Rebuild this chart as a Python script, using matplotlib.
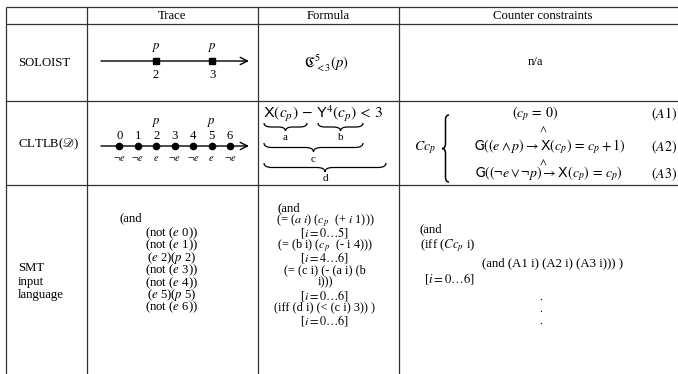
import matplotlib
matplotlib.use("Agg")
import matplotlib.pyplot as plt
from matplotlib.path import Path
from matplotlib.patches import PathPatch

plt.rcParams['font.family'] = ['Liberation Serif', 'DejaVu Serif']
plt.rcParams['mathtext.fontset'] = 'stix'

# ---------------- table content ----------------
headers = ["Trace", "Formula", "Counter constraints"]
row_labels = ["SOLOIST", r"CLTLB($\mathscr{D}$)", "SMT\ninput\nlanguage"]

# SOLOIST trace: positions with p
soloist_times = [2, 3]
soloist_marks = ["p", "p"]
soloist_formula = r"$\mathfrak{C}^{5}_{<3}(p)$"
soloist_constraints = "n/a"

# CLTLB trace
cltlb_times = [0, 1, 2, 3, 4, 5, 6]
cltlb_e = [False, False, True, False, False, True, False]
cltlb_p = [False, False, True, False, False, True, False]

SX = "\U0001D5B7"   # sans-serif X
SY = "\U0001D5B8"   # sans-serif Y
SG = "\U0001D5A6"   # sans-serif G
cltlb_formula = r"$" + SX + r"(c_p)\, -\, " + SY + r"^4(c_p)\, <\, 3$"
brace_labels = ["a", "b", "c", "d"]

constraint_lines = [r"$(c_p\, =\, 0)$",
                    r"$" + SG + r"((e \wedge p) \rightarrow " + SX + r"(c_p)\, =\, c_p + 1)$",
                    r"$" + SG + r"((\neg e \vee \neg p) \rightarrow " + SX + r"(c_p)\, =\, c_p)$"]
constraint_tags = [r"$(A1)$", r"$(A2)$", r"$(A3)$"]

smt_trace = [r"(not ($e$ 0))", r"(not ($e$ 1))", r"($e$ 2)($p$ 2)", r"(not ($e$ 3))",
             r"(not ($e$ 4))", r"($e$ 5)($p$ 5)", r"(not ($e$ 6))"]
smt_formula = [r"(= ($a$ $i$) ($c_p$  (+ $i$ 1)))", r"[$i = 0\ldots5$]",
               r"(= (b i) ($c_p$  (- i 4)))", r"[$i = 4\ldots6$]",
               r"(= (c i) (- (a i) (b", r"i)))", r"[$i = 0\ldots6$]",
               r"(iff (d i) (< (c i) 3)) )", r"[$i = 0\ldots6$]"]
smt_constraints = [r"(and", r"(iff ($Cc_p$ i)", r"(and (A1 i) (A2 i) (A3 i))) )", r"[$i = 0\ldots6$]"]

# ---------------- layout ----------------
W, H = 678, 374
fig = plt.figure(figsize=(W / 100, H / 100), dpi=100)
ax = fig.add_axes([0, 0, 1, 1])
ax.set_xlim(0, W)
ax.set_ylim(H, 0)
ax.axis('off')

FS = 9.2
LC = '#333333'
LW = 0.9

col_x = [6, 87, 258, 399]
row_y = [7, 24, 101, 185]
for y in row_y:
    ax.plot([col_x[0], W], [y, y], color=LC, lw=LW, solid_capstyle='butt')
for x in col_x:
    ax.plot([x, x], [row_y[0], H], color=LC, lw=LW, solid_capstyle='butt')


def T(x, y, s, ha='center', va='center', size=FS, **kw):
    ax.text(x, y, s, ha=ha, va=va, fontsize=size, color='black', **kw)


# headers
for cx, h in zip([172, 328, 543], headers):
    T(cx, 15.5, h)

# row labels
T(18, 63, row_labels[0], ha='left')
T(18, 144, row_labels[1], ha='left')
for i, s in enumerate(row_labels[2].split("\n")):
    T(18, 268 + 13.5 * i, s, ha='left')

# ---------- row 1 trace ----------
def arrow(x0, x1, y):
    ax.annotate("", xy=(x1, y), xytext=(x0, y),
                arrowprops=dict(arrowstyle="->", color='black', lw=1.0,
                                shrinkA=0, shrinkB=0, mutation_scale=13))

arrow(101, 249, 61)
s_x0, s_step = 44, 56
xs = [s_x0 + s_step * t for t in soloist_times]
ax.plot(xs, [61] * len(xs), 's', color='black', ms=4.5)
for x, t, m in zip(xs, soloist_times, soloist_marks):
    T(x, 47, "$" + m + "$")
    T(x, 75, str(t))

T(326, 63, soloist_formula, size=10.5)
T(535, 62, soloist_constraints)

# ---------- row 2 trace ----------
arrow(101, 249, 146)
c_x0, c_step = 119.3, 18.45
xs = [c_x0 + c_step * t for t in cltlb_times]
ax.plot(xs, [146] * len(xs), 'o', color='black', ms=4.5)
for x, t, e, p in zip(xs, cltlb_times, cltlb_e, cltlb_p):
    T(x, 136, str(t))
    T(x, 158.5, r"$e$" if e else r"$\neg e$", size=7.5)
    if p:
        T(x, 122, r"$p$")

# ---------- row 2 formula ----------
T(263, 114, cltlb_formula, ha='left', size=11.2)


def underbrace(x0, x1, y0, h):
    xm = (x0 + x1) / 2
    r = min(h * 0.9, (x1 - x0) / 4)
    ym = y0 + h / 2
    verts = [(x0, y0), (x0, ym), (x0 + r, ym),
             (xm - r, ym),
             (xm, ym), (xm, y0 + h),
             (xm, ym), (xm + r, ym),
             (x1 - r, ym),
             (x1, ym), (x1, y0)]
    codes = [Path.MOVETO, Path.CURVE3, Path.CURVE3,
             Path.LINETO,
             Path.CURVE3, Path.CURVE3,
             Path.CURVE3, Path.CURVE3,
             Path.LINETO,
             Path.CURVE3, Path.CURVE3]
    ax.add_patch(PathPatch(Path(verts, codes), fc='none', ec='black', lw=0.9))


braces = [(264, 307, 123, 8, 137), (318, 363, 123, 8, 137),
          (264, 363, 143, 9, 159), (264, 386, 163, 9, 178)]
for (x0, x1, y0, h, ly), lab in zip(braces, brace_labels):
    underbrace(x0, x1, y0, h)
    T((x0 + x1) / 2, ly, lab, size=8)

# ---------- row 2 constraints ----------
T(425, 148, r"$Cc_p$", size=10)


def leftbrace(xb, y0, y1, w):
    ym = (y0 + y1) / 2
    xh = xb + w / 2
    r = 5
    verts = [(xb + w, y0), (xh, y0), (xh, y0 + r),
             (xh, ym - r),
             (xh, ym), (xb, ym),
             (xh, ym), (xh, ym + r),
             (xh, y1 - r),
             (xh, y1), (xb + w, y1)]
    codes = [Path.MOVETO, Path.CURVE3, Path.CURVE3,
             Path.LINETO,
             Path.CURVE3, Path.CURVE3,
             Path.CURVE3, Path.CURVE3,
             Path.LINETO,
             Path.CURVE3, Path.CURVE3]
    ax.add_patch(PathPatch(Path(verts, codes), fc='none', ec='black', lw=1.1))


leftbrace(442, 115, 182, 7)
line_pos = [(535, 114), (550, 147), (549, 174)]
for (x, y), s in zip(line_pos, constraint_lines):
    T(x, y, s, size=10)
for y in [129, 162]:
    T(543, y, r"$\wedge$", size=8)
for (x, y), s in zip(line_pos, constraint_tags):
    T(677, y, s, ha='right', size=10)

# ---------- row 3 ----------
T(120, 218, "(and", ha='left')
for i, s in enumerate(smt_trace):
    T(172, 233 + 12.45 * i, s)

T(278, 208, "(and", ha='left')
for i, s in enumerate(smt_formula):
    T(325, 220.5 + 12.45 * i, s, size=8.8)

T(420, 229, smt_constraints[0], ha='left')
T(420, 246, smt_constraints[1], ha='left')
T(482, 263, smt_constraints[2], ha='left')
T(424, 278, smt_constraints[3], ha='left')
for y in [298, 310, 322]:
    T(541, y, ".", size=8)

fig.savefig("out.png", dpi=100)
